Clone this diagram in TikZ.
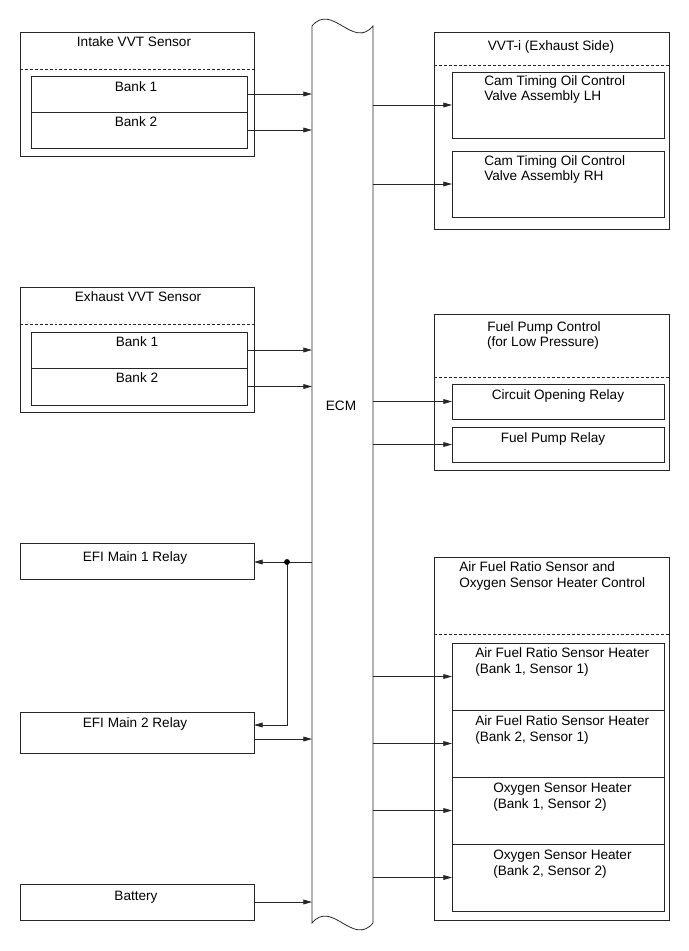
\documentclass[tikz,border=0pt]{standalone}
\usepackage{fontspec}
\setmainfont{Liberation Sans}
\usetikzlibrary{arrows.meta,fit}
\begin{document}
\begin{tikzpicture}[x=0.75pt,y=-0.75pt,
  box/.style={draw=black!85,line width=0.6pt,inner sep=0pt,outer sep=0pt},
  lbl/.style={font=\fontsize{10.2}{12}\selectfont,inner sep=0pt,anchor=base},
  lbll/.style={lbl,anchor=base west},
  sep/.style={draw=black!85,line width=0.6pt,dash pattern=on 2.2pt off 1.5pt},
  arr/.style={draw=black!85,line width=0.6pt,-{Triangle[length=6.5pt,width=3.6pt]}},
  wire/.style={draw=black!85,line width=0.6pt}]
\useasboundingbox (0,0) rectangle (689,951);

% ECM
\node[inner sep=0pt,outer sep=0pt,fit={(312,26) (373,923)}] (ECM) {};
\draw[wire] (312,26) -- (312,923) .. controls (332,899) and (353,947) .. (373,923)
  -- (373,26) .. controls (353,50) and (332,2) .. cycle;
\node[lbl] (tECM) at (341,410) {ECM};

% Intake VVT Sensor
\node[box,fit={(20,32) (254,156)}] (intake) {};
\draw[sep] (20,69) -- (254,69);
\node[lbl] (tIntake) at (134,46) {Intake VVT Sensor};
\node[box,fit={(31,76) (247,112)}] (ib1) {};
\node[box,fit={(31,112) (247,148)}] (ib2) {};
\node[lbl] (tib1) at (136,91) {Bank 1};
\node[lbl] (tib2) at (136,126) {Bank 2};
\draw[arr] (ib1.east) -- (ib1.east -| ECM.west);
\draw[arr] (ib2.east) -- (ib2.east -| ECM.west);

% Exhaust VVT Sensor
\node[box,fit={(20,287) (254,412)}] (exh) {};
\draw[sep] (20,324) -- (254,324);
\node[lbl] (tExh) at (138,301) {Exhaust VVT Sensor};
\node[box,fit={(31,332) (247,368)}] (eb1) {};
\node[box,fit={(31,368) (247,405)}] (eb2) {};
\node[lbl] (teb1) at (137,346) {Bank 1};
\node[lbl] (teb2) at (137,382) {Bank 2};
\draw[arr] (eb1.east) -- (eb1.east -| ECM.west);
\draw[arr] (eb2.east) -- (eb2.east -| ECM.west);

% EFI relays
\node[box,fit={(20,543) (254,579)}] (efi1) {};
\node[lbl] (tefi1) at (135,561) {EFI Main 1 Relay};
\node[box,fit={(20,712) (254,753)}] (efi2) {};
\node[lbl] (tefi2) at (135,727) {EFI Main 2 Relay};
\coordinate (j) at (287,562);
\coordinate (k) at (287,725);
\draw[wire] (j -| ECM.west) -- (j);
\draw[arr] (j) -- (j -| efi1.east);
\draw[arr] (j) -- (k) -- (k -| efi2.east);
\fill[black] (j) circle (2.2pt);
\coordinate (e2o) at (254,739);
\draw[arr] (e2o) -- (e2o -| ECM.west);

% Battery
\node[box,fit={(20,884) (254,920)}] (bat) {};
\node[lbl] (tbat) at (136,900) {Battery};
\draw[arr] (bat.east) -- (bat.east -| ECM.west);

% VVT-i (Exhaust Side)
\node[box,fit={(434,32) (669,229)}] (vvt) {};
\draw[sep] (434,65) -- (669,65);
\node[lbl] (tvvt) at (551,50) {VVT-i (Exhaust Side)};
\node[box,fit={(452,72) (664,138)}] (v1) {};
\node[box,fit={(452,151) (664,217)}] (v2) {};
\node[lbll] (tv1a) at (484,85) {Cam Timing Oil Control};
\node[lbll] (tv1b) at (484,100) {Valve Assembly LH};
\node[lbll] (tv2a) at (484,165) {Cam Timing Oil Control};
\node[lbll] (tv2b) at (484,180) {Valve Assembly RH};
\draw[arr] (v1.west -| ECM.east) -- (v1.west);
\draw[arr] (v2.west -| ECM.east) -- (v2.west);

% Fuel Pump Control
\node[box,fit={(434,314) (669,470)}] (fp) {};
\draw[sep] (434,377) -- (669,377);
\node[lbl] (tfpa) at (544,331) {Fuel Pump Control};
\node[lbl] (tfpb) at (543,346) {(for Low Pressure)};
\node[box,fit={(452,384) (664,419)}] (f1) {};
\node[box,fit={(452,427) (664,462)}] (f2) {};
\node[lbl] (tf1) at (558,399) {Circuit Opening Relay};
\node[lbl] (tf2) at (553,442) {Fuel Pump Relay};
\draw[arr] (f1.west -| ECM.east) -- (f1.west);
\draw[arr] (f2.west -| ECM.east) -- (f2.west);

% Air Fuel Ratio Sensor and Oxygen Sensor Heater Control
\node[box,fit={(434,557) (669,920)}] (af) {};
\draw[sep] (434,634) -- (669,634);
\node[lbll] (tafa) at (459,571) {Air Fuel Ratio Sensor and};
\node[lbll] (tafb) at (459,587) {Oxygen Sensor Heater Control};
\node[box,fit={(452,643) (664,710)}] (a1) {};
\node[box,fit={(452,710) (664,777)}] (a2) {};
\node[box,fit={(452,777) (664,844)}] (a3) {};
\node[box,fit={(452,844) (664,911)}] (a4) {};
\node[lbll] (ta1a) at (475,657) {Air Fuel Ratio Sensor Heater};
\node[lbll] (ta1b) at (475,673) {(Bank 1, Sensor 1)};
\node[lbll] (ta2a) at (475,725) {Air Fuel Ratio Sensor Heater};
\node[lbll] (ta2b) at (475,741) {(Bank 2, Sensor 1)};
\node[lbll] (ta3a) at (493,792) {Oxygen Sensor Heater};
\node[lbll] (ta3b) at (493,808) {(Bank 1, Sensor 2)};
\node[lbll] (ta4a) at (493,859) {Oxygen Sensor Heater};
\node[lbll] (ta4b) at (493,875) {(Bank 2, Sensor 2)};
\draw[arr] (a1.west -| ECM.east) -- (a1.west);
\draw[arr] (a2.west -| ECM.east) -- (a2.west);
\draw[arr] (a3.west -| ECM.east) -- (a3.west);
\draw[arr] (a4.west -| ECM.east) -- (a4.west);
\end{tikzpicture}
\end{document}
